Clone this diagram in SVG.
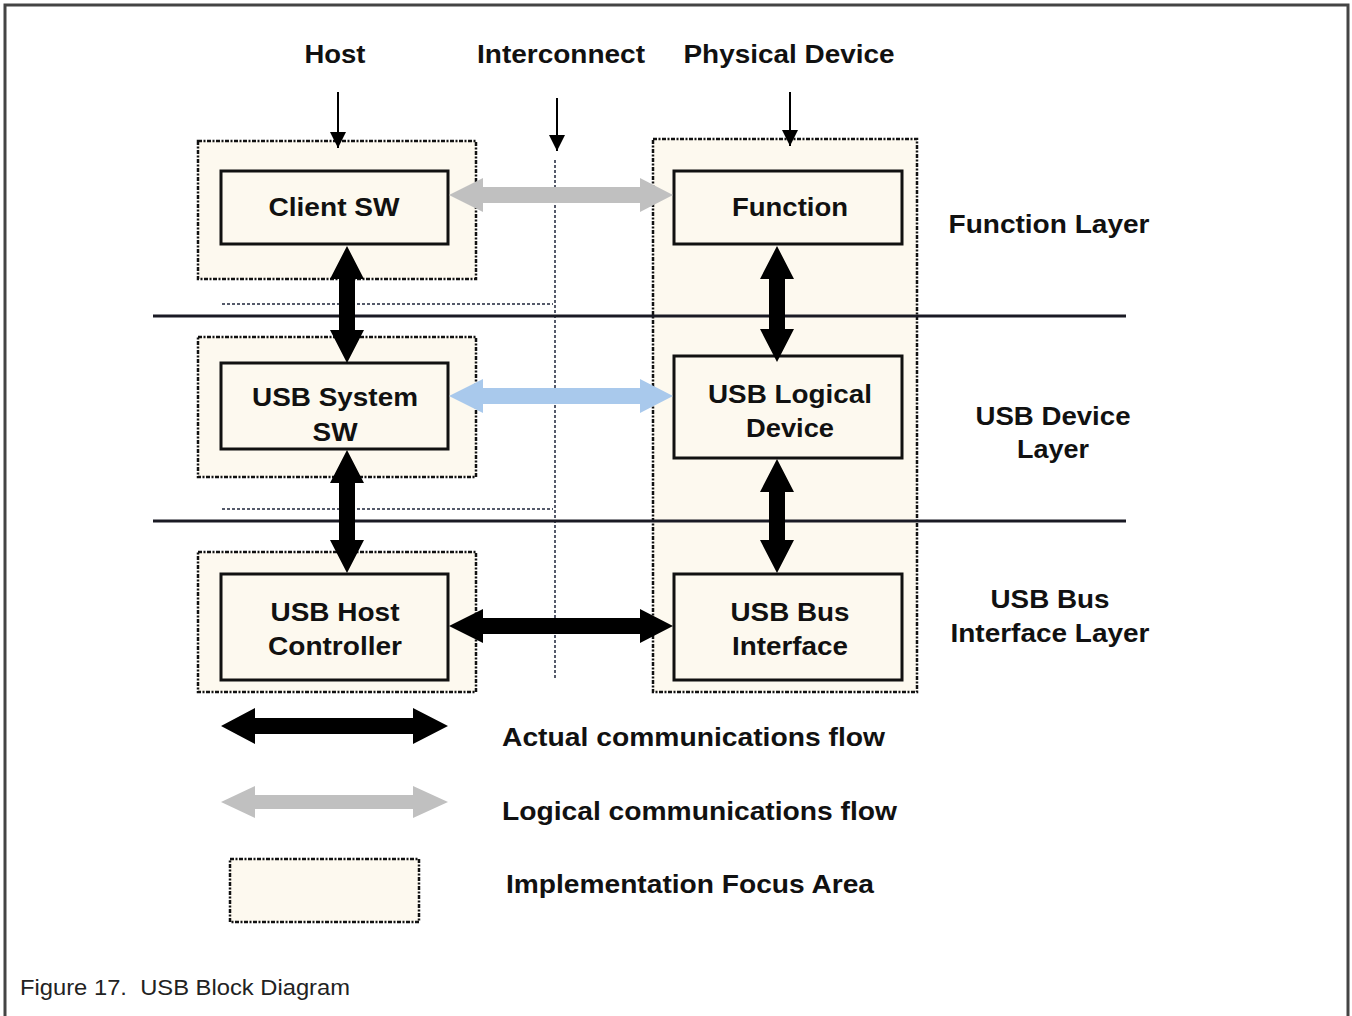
<svg xmlns="http://www.w3.org/2000/svg" width="1352" height="1016" viewBox="0 0 1352 1016">
<style>
.t{font-family:"Liberation Sans",Arial,sans-serif;font-weight:bold;font-size:25px;fill:#111;text-anchor:middle}
.tl{font-family:"Liberation Sans",Arial,sans-serif;font-weight:bold;font-size:25px;fill:#111}
.focus{fill:#fdf9ef;stroke:#111;stroke-width:2.5;stroke-dasharray:4 1.5 2 1.5}
.box{fill:#fdf9ef;stroke:#111;stroke-width:3}
.blk{fill:#000}
.gry{fill:#c0c0c0}
.blu{fill:#a9c9ec}
.dot{stroke:#555a6a;stroke-width:2;stroke-dasharray:3 2;fill:none}
.hl{stroke:#1a1a24;stroke-width:3}
.thin{stroke:#000;stroke-width:2}
</style>
<defs>
<marker id="ah" viewBox="0 0 10 10" refX="10" refY="5" markerWidth="20" markerHeight="16" markerUnits="userSpaceOnUse" orient="auto">
<path d="M0,0 L10,5 L0,10 Z" fill="#000"/>
</marker>
</defs>
<rect width="1352" height="1016" fill="#fff"/>
<path d="M5,1016 V5 H1348 V1016" fill="none" stroke="#444" stroke-width="3"/>

<g id="headers">
<text class="t" x="335" y="63" textLength="61" lengthAdjust="spacingAndGlyphs">Host</text>
<text class="t" x="561" y="63" textLength="168" lengthAdjust="spacingAndGlyphs">Interconnect</text>
<text class="t" x="789" y="63" textLength="211" lengthAdjust="spacingAndGlyphs">Physical Device</text>
</g>

<g id="focus-host-1"><rect class="focus" x="198" y="141" width="278" height="138"/></g>
<g id="focus-host-2"><rect class="focus" x="198" y="337" width="278" height="140"/></g>
<g id="focus-host-3"><rect class="focus" x="198" y="552" width="278" height="140"/></g>
<g id="focus-device"><rect class="focus" x="653" y="139" width="264" height="553"/></g>

<g id="guides">
<line class="dot" x1="222" y1="304" x2="553" y2="304"/>
<line class="dot" x1="222" y1="509" x2="553" y2="509"/>
<line class="dot" x1="555" y1="160" x2="555" y2="680"/>
<line class="hl" x1="153" y1="316" x2="1126" y2="316"/>
<line class="hl" x1="153" y1="521" x2="1126" y2="521"/>
</g>

<g id="client-sw"><rect class="box" x="221" y="171" width="227" height="73"/>
<text class="t" x="334" y="216" textLength="131" lengthAdjust="spacingAndGlyphs">Client SW</text></g>
<g id="function"><rect class="box" x="674" y="171" width="228" height="73"/>
<text class="t" x="790" y="216" textLength="116" lengthAdjust="spacingAndGlyphs">Function</text></g>
<g id="usb-system-sw"><rect class="box" x="221" y="363" width="227" height="86"/>
<text class="t" x="335" y="406" textLength="166" lengthAdjust="spacingAndGlyphs">USB System</text>
<text class="t" x="335" y="441" textLength="45" lengthAdjust="spacingAndGlyphs">SW</text></g>
<g id="usb-logical-device"><rect class="box" x="674" y="356" width="228" height="102"/>
<text class="t" x="790" y="403" textLength="164" lengthAdjust="spacingAndGlyphs">USB Logical</text>
<text class="t" x="790" y="437" textLength="88" lengthAdjust="spacingAndGlyphs">Device</text></g>
<g id="usb-host-controller"><rect class="box" x="221" y="574" width="227" height="106"/>
<text class="t" x="335" y="621" textLength="129" lengthAdjust="spacingAndGlyphs">USB Host</text>
<text class="t" x="335" y="655" textLength="134" lengthAdjust="spacingAndGlyphs">Controller</text></g>
<g id="usb-bus-interface"><rect class="box" x="674" y="574" width="228" height="106"/>
<text class="t" x="790" y="621" textLength="119" lengthAdjust="spacingAndGlyphs">USB Bus</text>
<text class="t" x="790" y="655" textLength="116" lengthAdjust="spacingAndGlyphs">Interface</text></g>

<g id="layer-labels">
<text class="t" x="1049" y="233" textLength="201" lengthAdjust="spacingAndGlyphs">Function Layer</text>
<text class="t" x="1053" y="425" textLength="155" lengthAdjust="spacingAndGlyphs">USB Device</text>
<text class="t" x="1053" y="458" textLength="72" lengthAdjust="spacingAndGlyphs">Layer</text>
<text class="t" x="1050" y="608" textLength="119" lengthAdjust="spacingAndGlyphs">USB Bus</text>
<text class="t" x="1050" y="642" textLength="199" lengthAdjust="spacingAndGlyphs">Interface Layer</text>
</g>

<g id="connectors">
<line class="thin" x1="338" y1="92" x2="338" y2="148" marker-end="url(#ah)"/>
<line class="thin" x1="557" y1="98" x2="557" y2="151" marker-end="url(#ah)"/>
<line class="thin" x1="790" y1="92" x2="790" y2="146" marker-end="url(#ah)"/>
<polygon class="gry" points="449,195 483,178 483,187 640,187 640,178 673,195 640,212 640,203 483,203 483,212"/>
<polygon class="blu" points="449,396 483,379 483,388 640,388 640,379 673,396 640,413 640,404 483,404 483,413"/>
<polygon class="blk" points="449,626 483,609 483,618 640,618 640,609 673,626 640,643 640,634 483,634 483,643"/>
<polygon class="blk" points="347,246 364,279 355,279 355,330 364,330 347,363 330,330 339,330 339,279 330,279"/>
<polygon class="blk" points="347,450 364,483 355,483 355,540 364,540 347,573 330,540 339,540 339,483 330,483"/>
<polygon class="blk" points="777,246 794,279 785,279 785,329 794,329 777,362 760,329 769,329 769,279 760,279"/>
<polygon class="blk" points="777,459 794,492 785,492 785,540 794,540 777,573 760,540 769,540 769,492 760,492"/>
</g>

<g id="legend">
<polygon class="blk" points="221,726 255,708 255,718 413,718 413,708 448,726 413,744 413,734 255,734 255,744"/>
<text class="tl" x="502" y="746" textLength="383" lengthAdjust="spacingAndGlyphs">Actual communications flow</text>
<polygon class="gry" points="221,802 255,786 255,795 413,795 413,786 448,802 413,818 413,809 255,809 255,818"/>
<text class="tl" x="502" y="820" textLength="395" lengthAdjust="spacingAndGlyphs">Logical communications flow</text>
<rect class="focus" x="230" y="859" width="189" height="63"/>
<text class="tl" x="506" y="893" textLength="368" lengthAdjust="spacingAndGlyphs">Implementation Focus Area</text>
</g>

<text x="20" y="995" font-family="'Liberation Sans',Arial,sans-serif" font-size="22" fill="#222" textLength="330" lengthAdjust="spacingAndGlyphs" xml:space="preserve">Figure 17.  USB Block Diagram</text>
</svg>
